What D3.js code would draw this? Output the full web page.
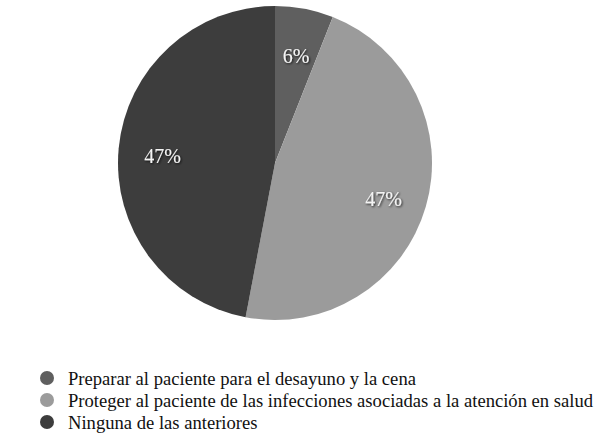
<!DOCTYPE html>
<html>
<head>
<meta charset="utf-8">
<script src="https://cdn.jsdelivr.net/npm/d3@7"></script>
<style>
  body { margin: 0; background: #fff; }
  #chart { width: 596px; height: 436px; }
  text { font-family: 'Liberation Serif', 'DejaVu Serif', serif; }
</style>
</head>
<body>
<div id="chart"></div>
<script>
const categories = [
  'Preparar al paciente para el desayuno y la cena',
  'Proteger al paciente de las infecciones asociadas a la atención en salud',
  'Ninguna de las anteriores'
];
const values = [6, 47, 47];
const labels = ['6%', '47%', '47%'];
const colors = ['#5f5f5f', '#9b9b9b', '#3d3d3d'];

function drawPie(target) {
  const width = 596;
  const height = 436;
  const cx = 275;
  const cy = 163;
  const radius = 157;
  const labelRadius = 113;

  const svg = d3.select(target).append('svg')
    .attr('width', width)
    .attr('height', height);

  const defs = svg.append('defs');
  const shadow = defs.append('filter')
    .attr('id', 'text-shadow')
    .attr('x', '-20%').attr('y', '-20%')
    .attr('width', '140%').attr('height', '140%');
  shadow.append('feDropShadow')
    .attr('dx', 1)
    .attr('dy', 1)
    .attr('stdDeviation', 1)
    .attr('flood-color', '#000')
    .attr('flood-opacity', 0.8);

  const pie = d3.pie().sort(null).value(d => d);
  const arcs = pie(values);
  const arc = d3.arc().innerRadius(0).outerRadius(radius);
  const labelArc = d3.arc().innerRadius(labelRadius).outerRadius(labelRadius);

  const g = svg.append('g')
    .attr('transform', `translate(${cx},${cy})`);

  g.selectAll('path')
    .data(arcs)
    .join('path')
      .attr('d', arc)
      .attr('fill', (d, i) => colors[i]);

  g.selectAll('text')
    .data(arcs)
    .join('text')
      .attr('transform', d => `translate(${labelArc.centroid(d)})`)
      .attr('text-anchor', 'middle')
      .attr('dy', '0.55em')
      .attr('font-size', 20)
      .attr('fill', '#f4f4f4')
      .attr('filter', 'url(#text-shadow)')
      .text((d, i) => labels[i]);

  const legendY = d3.scalePoint()
    .domain(categories)
    .range([378, 422]);

  const legend = svg.append('g').attr('class', 'legend');
  const items = legend.selectAll('g')
    .data(categories)
    .join('g')
      .attr('transform', d => `translate(47,${legendY(d)})`);

  items.append('circle')
    .attr('r', 7)
    .attr('fill', (d, i) => colors[i]);

  items.append('text')
    .attr('x', 21)
    .attr('dy', '0.35em')
    .attr('font-size', 18.6)
    .attr('fill', '#111')
    .text(d => d);
}

drawPie('#chart');
</script>
</body>
</html>
